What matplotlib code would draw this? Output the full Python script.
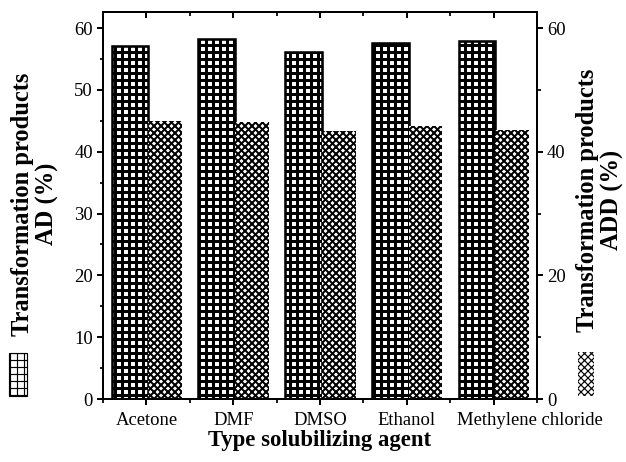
import matplotlib
matplotlib.use("Agg")
import matplotlib.pyplot as plt
import matplotlib.transforms as mtransforms
import numpy as np
from matplotlib.patches import Rectangle
from matplotlib.ticker import MultipleLocator, FixedLocator, NullFormatter

# data
solvents = ['Acetone', 'DMF', 'DMSO', 'Ethanol', 'Methylene chloride']
ad_pct = [57.1, 58.2, 56.1, 57.6, 57.9]
add_pct = [45.0, 44.8, 43.4, 44.2, 43.5]

plt.rcParams['font.family'] = ['Liberation Serif', 'DejaVu Serif']
plt.rcParams['axes.linewidth'] = 1.7

DPI = 84
W, H = 626, 462
fig = plt.figure(figsize=(W / DPI, H / DPI), dpi=DPI)
ax = fig.add_axes([103 / W, 1 - 399 / H, (537 - 103) / W, (399 - 12) / H])

x = np.arange(len(solvents))
with plt.rc_context({'hatch.linewidth': 2.6}):
    ax.bar(x - 0.19, ad_pct, 0.42, facecolor='white', edgecolor='black',
           hatch='++', linewidth=2.2)
with plt.rc_context({'hatch.linewidth': 1.7}):
    ax.bar(x + 0.215, add_pct, 0.39, facecolor='white', edgecolor='black',
           hatch='xxxx', linewidth=0)

ymax = 62.6
ax.set_xlim(-0.5, len(solvents) - 0.5)
ax.set_ylim(0, ymax)

ax.set_xticks(x)
ax.set_xticklabels(solvents, fontsize=16)
ax.xaxis.set_minor_locator(FixedLocator(np.arange(-0.5, len(solvents), 1)))
ax.yaxis.set_major_locator(MultipleLocator(10))
ax.yaxis.set_minor_locator(MultipleLocator(5))
ax.tick_params(axis='both', which='major', direction='out', length=5, width=1.7, labelsize=16)
ax.tick_params(axis='both', which='minor', direction='out', length=3, width=1.5)
ax.tick_params(axis='x', pad=6)

# last category label sits shifted to the right in the original
lbl = ax.get_xticklabels()[-1]
lbl.set_transform(lbl.get_transform() + mtransforms.ScaledTranslation(36 / DPI, 0, fig.dpi_scale_trans))

# top ticks point inward
top = ax.secondary_xaxis('top')
top.set_xticks(x)
top.xaxis.set_minor_locator(FixedLocator(np.arange(-0.5, len(solvents), 1)))
top.xaxis.set_major_formatter(NullFormatter())
top.tick_params(which='major', direction='in', length=5, width=1.7)
top.tick_params(which='minor', direction='in', length=3, width=1.5)

ax2 = ax.twinx()
ax2.set_ylim(0, ymax)
ax2.yaxis.set_major_locator(MultipleLocator(20))
ax2.yaxis.set_minor_locator(MultipleLocator(10))
ax2.tick_params(which='major', direction='out', length=5, width=1.7, labelsize=16)
ax2.tick_params(which='minor', direction='out', length=3, width=1.5)

ax.set_xlabel('Type solubilizing agent', fontsize=19.5, fontweight='bold', labelpad=1)

# y labels with their legend swatch, as in the original
fig.text(35 / W, 1 - 204 / H, 'Transformation products\nAD (%)', rotation=90,
         ha='center', va='center', fontsize=21, fontweight='bold', linespacing=1.1)
fig.text(600 / W, 1 - 200 / H, 'Transformation products\nADD (%)', rotation=90,
         ha='center', va='center', fontsize=21, fontweight='bold', linespacing=1.05)

with plt.rc_context({'hatch.linewidth': 1.0}):
    fig.add_artist(Rectangle((9 / W, 1 - 396 / H), 18 / W, 43 / H, transform=fig.transFigure,
                             facecolor='white', edgecolor='black', hatch='++', linewidth=1.0))
with plt.rc_context({'hatch.linewidth': 1.0}):
    fig.add_artist(Rectangle((578 / W, 1 - 396 / H), 16 / W, 44 / H, transform=fig.transFigure,
                             facecolor='white', edgecolor='black', hatch='xxxx', linewidth=0))

fig.savefig('out.png', dpi=DPI)
